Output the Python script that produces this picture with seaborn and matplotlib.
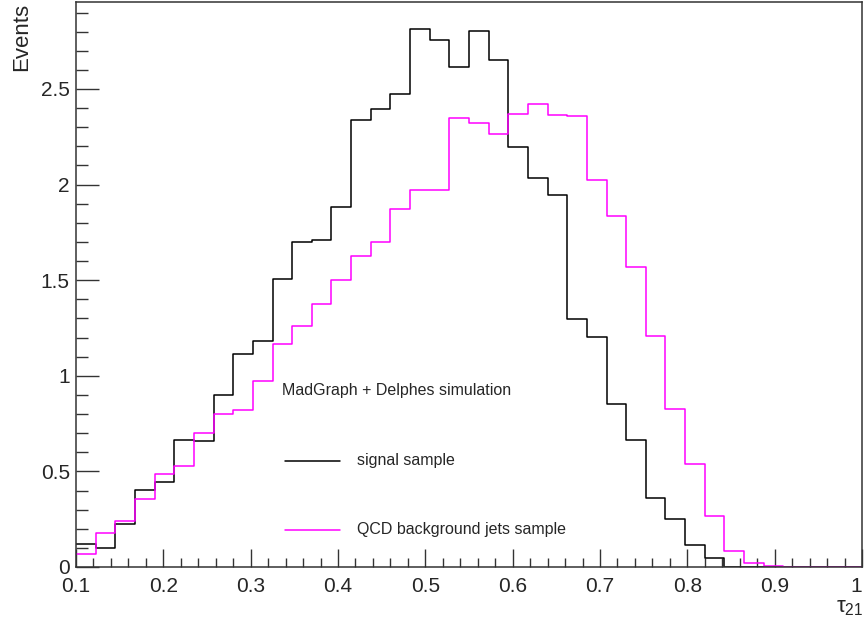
import numpy as np
import pandas as pd
import matplotlib
matplotlib.use("Agg")
import matplotlib.pyplot as plt
import seaborn as sns
from matplotlib.lines import Line2D
from matplotlib.ticker import MultipleLocator, FormatStrFormatter

# Binning of the tau21 distribution: 40 bins between 0.1 and 1.0
n_bins = 40
tau_range = (0.1, 1.0)
bin_edges = np.linspace(tau_range[0], tau_range[1], n_bins + 1)
bin_centers = 0.5 * (bin_edges[:-1] + bin_edges[1:])

signal_counts = [0.119, 0.098, 0.223, 0.401, 0.446, 0.664, 0.661, 0.900, 1.114, 1.182,
                 1.508, 1.700, 1.710, 1.881, 2.338, 2.397, 2.474, 2.814, 2.758, 2.615,
                 2.803, 2.653, 2.198, 2.035, 1.946, 1.299, 1.201, 0.854, 0.666, 0.363,
                 0.253, 0.117, 0.049, 0.0, 0.0, 0.0, 0.0, 0.0, 0.0, 0.0]

qcd_counts = [0.068, 0.180, 0.242, 0.356, 0.488, 0.527, 0.699, 0.802, 0.823, 0.973,
              1.165, 1.262, 1.374, 1.499, 1.628, 1.698, 1.872, 1.970, 1.970, 2.350,
              2.320, 2.266, 2.369, 2.420, 2.364, 2.357, 2.022, 1.834, 1.571, 1.210,
              0.828, 0.537, 0.265, 0.086, 0.023, 0.004, 0.0, 0.0, 0.0, 0.0]

x_tick_values = [0.1, 0.2, 0.3, 0.4, 0.5, 0.6, 0.7, 0.8, 0.9, 1.0]
x_tick_labels = ["0.1", "0.2", "0.3", "0.4", "0.5", "0.6", "0.7", "0.8", "0.9", "1"]

header_text = "MadGraph + Delphes simulation"
series_labels = ["signal sample", "QCD background jets sample"]
series_colors = ["black", "#ff00ff"]

sns.set_style("ticks")
plt.rcParams["font.family"] = ["Liberation Sans", "DejaVu Sans"]
plt.rcParams["mathtext.fontset"] = "custom"
plt.rcParams["mathtext.rm"] = "Liberation Sans"
plt.rcParams["mathtext.it"] = "Liberation Sans"

fig = plt.figure(figsize=(8.66, 6.25), dpi=100)
ax = fig.add_axes([76 / 866, 1 - 567 / 625, 786 / 866, 565 / 625])

df = pd.DataFrame({
    "tau21": np.concatenate([bin_centers, bin_centers]),
    "events": np.concatenate([signal_counts, qcd_counts]),
    "sample": [series_labels[0]] * n_bins + [series_labels[1]] * n_bins,
})

for label, color in zip(series_labels, series_colors):
    sub = df[df["sample"] == label]
    sns.histplot(data=sub, x="tau21", weights="events", bins=n_bins, binrange=tau_range,
                 element="step", fill=False, color=color, linewidth=1.1, ax=ax)

ax.set_xlim(*tau_range)
ax.set_ylim(0, 2.955)
ax.set_xlabel("")
ax.set_ylabel("")

frame_color = "#333333"
for side in ["left", "right", "top", "bottom"]:
    ax.spines[side].set_visible(True)
    ax.spines[side].set_color(frame_color)
    ax.spines[side].set_linewidth(1.1)

ax.set_xticks(x_tick_values, x_tick_labels)
ax.xaxis.set_minor_locator(MultipleLocator(0.02))
ax.yaxis.set_major_locator(MultipleLocator(0.5))
ax.yaxis.set_minor_locator(MultipleLocator(0.1))
ax.yaxis.set_major_formatter(FormatStrFormatter("%g"))

ax.tick_params(axis="x", which="major", direction="in", length=13, width=1, color=frame_color,
               labelsize=15, pad=7)
ax.tick_params(axis="x", which="minor", direction="in", length=6.5, width=1, color=frame_color)
ax.tick_params(axis="y", which="major", direction="in", length=16.5, width=1, color=frame_color,
               labelsize=15, pad=4.5)
ax.tick_params(axis="y", which="minor", direction="in", length=8.5, width=1, color=frame_color)

# Keep the last x tick label inside the canvas
ax.xaxis.get_major_ticks()[-1].label1.set_horizontalalignment("right")

# Axis titles
fig.text(22 / 866, 1 - 3 / 625, "Events", rotation=90, ha="center", va="top", fontsize=16)
fig.text(863 / 866, 1 - 597 / 625, r"$\tau_{21}$", ha="right", va="top", fontsize=16)

# Legend drawn inside the plotting area
ax.text(0.262, 0.313, header_text, transform=ax.transAxes, ha="left", va="center", fontsize=11.5)
legend_y = [0.188, 0.0655]
for label, color, yy in zip(series_labels, series_colors, legend_y):
    ax.add_line(Line2D([0.266, 0.336], [yy, yy], transform=ax.transAxes, color=color, linewidth=1.1))
    ax.text(0.3575, yy, label, transform=ax.transAxes, ha="left", va="center", fontsize=11.5)

fig.savefig("out.png", dpi=100)
